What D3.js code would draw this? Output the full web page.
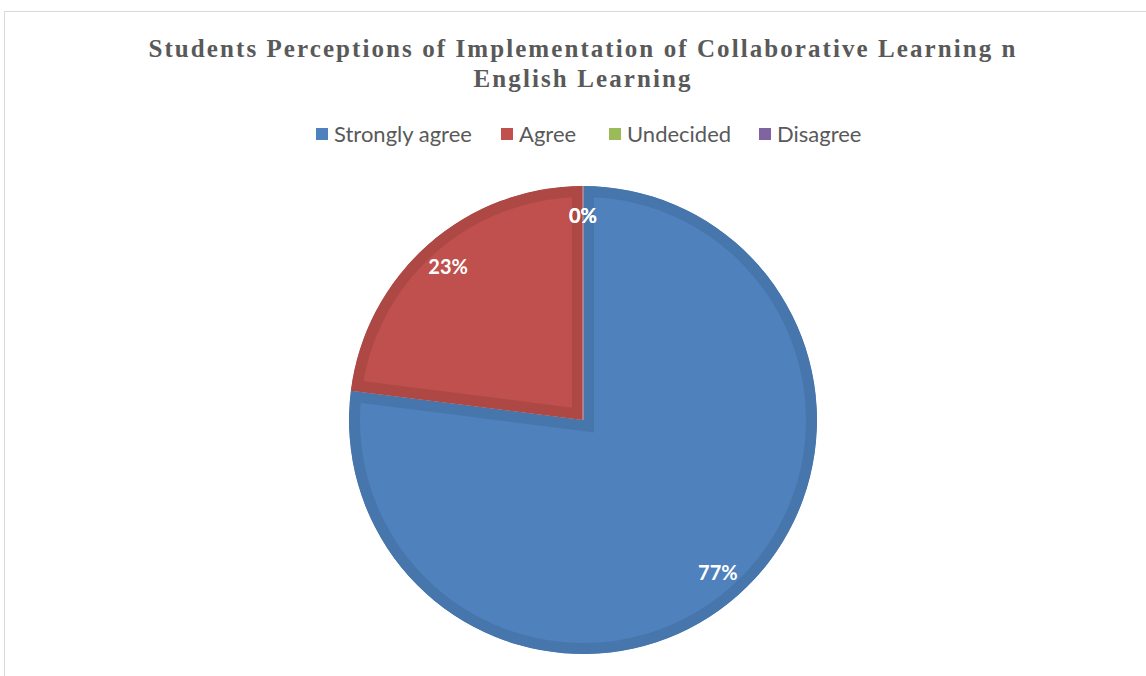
<!DOCTYPE html>
<html>
<head>
<meta charset="utf-8">
<script src="https://cdn.jsdelivr.net/npm/d3@7"></script>
<style>
    body { margin: 0; background: #fff; }
    svg { display: block; }
</style>
</head>
<body>
<svg id="chart" width="1146" height="676"></svg>
<script>
const categories = ["Strongly agree", "Agree", "Undecided", "Disagree"];
const values = [77, 23, 0, 0];
const labels = ["77%", "23%", "0%", "0%"];
const fills = ["#4f81bd", "#c0504d", "#9bbb59", "#8064a2"];
const edges = ["#4776ad", "#ad4845", "#8ca850", "#735a92"];

const titleLines = [
    "Students Perceptions of Implementation of Collaborative Learning n",
    "English Learning"
];

const cfg = {
    cx: 583,
    cy: 420,
    r: 234,
    bevel: 11,
    labelR: 204,
};

const svg = d3.select("#chart");

// frame (only top and left edges show)
svg.append("path")
    .attr("d", "M4.5,676 V11.5 H1146")
    .attr("fill", "none")
    .attr("stroke", "#d9d9d9")
    .attr("stroke-width", 1);

// title
const title = svg.append("g")
    .attr("font-family", "'Liberation Serif', 'Times New Roman', serif")
    .attr("font-weight", "bold")
    .attr("font-size", 25)
    .attr("fill", "#595959")
    .attr("text-anchor", "middle");

title.append("text")
    .attr("x", 582).attr("y", 57)
    .attr("textLength", 867)
    .attr("lengthAdjust", "spacing")
    .text(titleLines[0]);
title.append("text")
    .attr("x", 582).attr("y", 87)
    .attr("textLength", 217)
    .attr("lengthAdjust", "spacing")
    .text(titleLines[1]);

// legend
const legendX = [316, 501, 609, 759];
const legend = svg.append("g")
    .selectAll("g")
    .data(categories)
    .join("g")
    .attr("transform", (d, i) => "translate(" + legendX[i] + ",134)");

legend.append("rect")
    .attr("x", 0).attr("y", -6)
    .attr("width", 12).attr("height", 12)
    .attr("fill", (d, i) => fills[i]);
legend.append("text")
    .attr("x", 18).attr("y", 8)
    .attr("font-family", "Lato, 'Open Sans', sans-serif")
    .attr("font-size", 22)
    .attr("fill", "#595959")
    .text(d => d);

// pie
const pie = d3.pie().sort(null).value(d => d);
const arcs = pie(values);
const arc = d3.arc().innerRadius(0).outerRadius(cfg.r);
const labelArc = d3.arc().innerRadius(cfg.labelR).outerRadius(cfg.labelR);

const defs = svg.append("defs");
const pieG = svg.append("g")
    .attr("transform", "translate(" + cfg.cx + "," + cfg.cy + ")");

arcs.forEach((a, i) => {
    if (a.endAngle - a.startAngle <= 0) {
        // zero slices only leave a hairline at 12 o'clock
        return;
    }
    defs.append("clipPath")
        .attr("id", "clip-" + i)
        .append("path")
        .attr("d", arc(a));
    pieG.append("path")
        .attr("d", arc(a))
        .attr("fill", fills[i])
        .attr("stroke", edges[i])
        .attr("stroke-width", cfg.bevel * 2)
        .attr("stroke-linejoin", "miter")
        .attr("clip-path", "url(#clip-" + i + ")");
});

// hairline for the empty slices
pieG.append("line")
    .attr("x1", 0).attr("y1", 0)
    .attr("x2", 0).attr("y2", -cfg.r)
    .attr("stroke", "#d7a3a8")
    .attr("stroke-width", 1);

// data labels
pieG.selectAll("text.lbl")
    .data(arcs)
    .join("text")
    .attr("class", "lbl")
    .attr("transform", d => {
        var c = labelArc.centroid(d);
        return "translate(" + c[0] + "," + c[1] + ")";
    })
    .attr("text-anchor", "middle")
    .attr("dy", "0.35em")
    .attr("font-family", "Lato, 'Open Sans', sans-serif")
    .attr("font-weight", "bold")
    .attr("font-size", 20)
    .attr("fill", "#ffffff")
    .text((d, i) => labels[i]);
</script>
</body>
</html>
